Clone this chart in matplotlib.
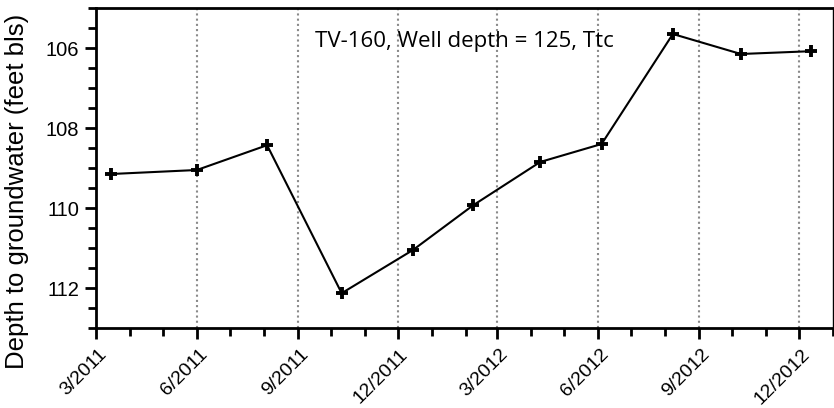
import matplotlib
matplotlib.use("Agg")
import matplotlib.pyplot as plt
import matplotlib.dates as mdates
import matplotlib.transforms as mtransforms
from matplotlib.ticker import MultipleLocator
import datetime as dt

plt.rcParams["font.family"] = ["Liberation Sans", "DejaVu Sans"]

dates = ["2011-03-15", "2011-06-01", "2011-08-04", "2011-10-11", "2011-12-15",
         "2012-02-08", "2012-04-09", "2012-06-04", "2012-08-08", "2012-10-09", "2012-12-12"]
depth = [109.15, 109.05, 108.43, 112.13, 111.05, 109.93, 108.85, 108.4, 105.65, 106.15, 106.08]
title_text = "TV-160, Well depth = 125, Ttc"
ylabel = "Depth to groundwater (feet bls)"

x = [dt.datetime.strptime(d, "%Y-%m-%d") for d in dates]

fig = plt.figure(figsize=(8.34, 4.08), dpi=100)
ax = fig.add_axes([96/834, 80/408, (833-96)/834, (328-8)/408])

ax.plot(x, depth, color="black", lw=1.5, marker="+", markersize=8, markeredgewidth=2.8, zorder=3)

ax.set_xlim(dt.datetime(2011, 3, 1), dt.datetime(2013, 1, 1))
ax.set_ylim(113, 105)
ax.yaxis.set_major_locator(MultipleLocator(2))
ax.yaxis.set_minor_locator(MultipleLocator(0.5))
ax.xaxis.set_major_locator(mdates.MonthLocator(bymonth=[3, 6, 9, 12]))
ax.xaxis.set_minor_locator(mdates.MonthLocator())
ax.xaxis.set_major_formatter(mdates.DateFormatter("%-m/%Y"))

ax.tick_params(axis="both", which="major", length=8, width=2, direction="out")
ax.tick_params(axis="both", which="minor", length=6, width=2, direction="out")
ax.tick_params(axis="x", labelsize=14, pad=5)
ax.tick_params(axis="y", labelsize=14.5, pad=4)
offset = mtransforms.ScaledTranslation(2 / 100, 0, fig.dpi_scale_trans)
for lbl in ax.get_xticklabels():
    lbl.set_rotation(45)
    lbl.set_ha("right")
    lbl.set_rotation_mode("anchor")
    lbl.set_transform(lbl.get_transform() + offset)

ax.xaxis.grid(True, which="major", linestyle=(0, (1, 1.5)), color="#8a8a8a", lw=1.5)
for s in ax.spines.values():
    s.set_linewidth(2)
ax.spines["right"].set_linewidth(1)

ax.set_ylabel(ylabel, fontsize=18.5)
ax.yaxis.set_label_coords((29 - 96) / 737, (328 - 191) / 320)
ax.text(0.5, 0.895, title_text, transform=ax.transAxes, ha="center", va="center",
        fontsize=16, family="Open Sans")

fig.savefig("out.png", dpi=100)
